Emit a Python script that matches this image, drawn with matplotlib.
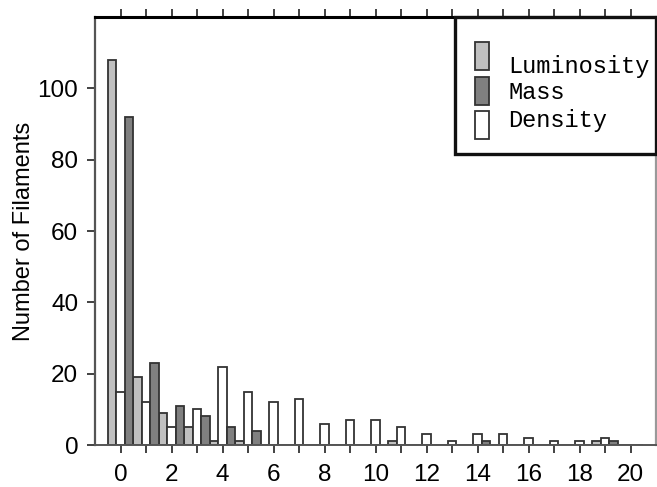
import numpy as np
import matplotlib
matplotlib.use("Agg")
import matplotlib.pyplot as plt
from matplotlib.patches import Rectangle

# histogram of filaments per bin
bins = list(range(21))
luminosity = [108, 19, 9, 5, 1, 1, 0, 0, 0, 0, 0, 1, 0, 0, 0, 0, 0, 0, 0, 1, 0]
mass = [92, 23, 11, 8, 5, 4, 0, 0, 0, 0, 0, 0, 0, 0, 1, 0, 0, 0, 0, 1, 0]
density = [15, 12, 5, 10, 22, 15, 12, 13, 6, 7, 7, 5, 3, 1, 3, 3, 2, 1, 1, 2, 0]
labels = ["Luminosity", "Mass", "Density"]
colors = ["#c0c0c0", "#808080", "#ffffff"]

plt.rcParams["font.family"] = "Liberation Sans"

fig = plt.figure(figsize=(6.57, 4.87), dpi=100)
ax = fig.add_axes([95 / 657, 1 - 445 / 487, 561 / 657, 428 / 487])

x = np.array(bins)
w = 1 / 3
edge = "#333333"
ax.bar(x - w, luminosity, width=w, color=colors[0], edgecolor=edge, linewidth=1.3, zorder=2)
ax.bar(x, density, width=w, color=colors[2], edgecolor=edge, linewidth=1.3, zorder=2)
ax.bar(x + w, mass, width=w, color=colors[1], edgecolor=edge, linewidth=1.3, zorder=2)

ax.set_xlim(-1, 21)
ax.set_ylim(0, 120)
ax.set_xticks(range(0, 21, 2))
ax.set_xticks(range(1, 21, 2), minor=True)
ax.set_yticks(range(0, 101, 20))
ax.tick_params(axis="both", labelsize=17.5, direction="out", length=6, width=1.3,
               color="#333333", pad=6)
ax.tick_params(axis="x", which="minor", length=6, width=1.3, color="#333333")
ax.tick_params(axis="x", which="both", top=True, pad=8)
ax.set_ylabel("Number of Filaments", fontsize=17, labelpad=2)

ax.spines["top"].set_linewidth(2.2)
ax.spines["top"].set_color("black")
ax.spines["left"].set_color("#555555")
ax.spines["left"].set_linewidth(1.6)
ax.spines["bottom"].set_color("#555555")
ax.spines["bottom"].set_linewidth(1.4)
ax.spines["right"].set_color("#999999")
ax.spines["right"].set_linewidth(1.6)

# legend box drawn by hand to match the original layout
x0 = (455 - 95) / 561
y0 = (445 - 154) / 428
ax.add_patch(Rectangle((x0, y0), 1 - x0, 1 - y0, transform=ax.transAxes,
                       facecolor="white", edgecolor="#111111", linewidth=2.4,
                       zorder=5, clip_on=False))
patch_y = [(445 - 70) / 428, (445 - 105) / 428, (445 - 139.3) / 428]
text_y = [(445 - 72.7) / 428, (445 - 99.3) / 428, (445 - 126.7) / 428]
for lab, c, py, ty in zip(labels, colors, patch_y, text_y):
    ax.add_patch(Rectangle(((475 - 95) / 561, py), 14 / 561, 28 / 428,
                           transform=ax.transAxes, facecolor=c, edgecolor=edge,
                           linewidth=1.3, zorder=6))
    ax.text((508 - 95) / 561, ty, lab, transform=ax.transAxes, va="baseline",
            ha="left", fontsize=17, family="Liberation Mono", zorder=6)

fig.savefig("out.png", dpi=100)
